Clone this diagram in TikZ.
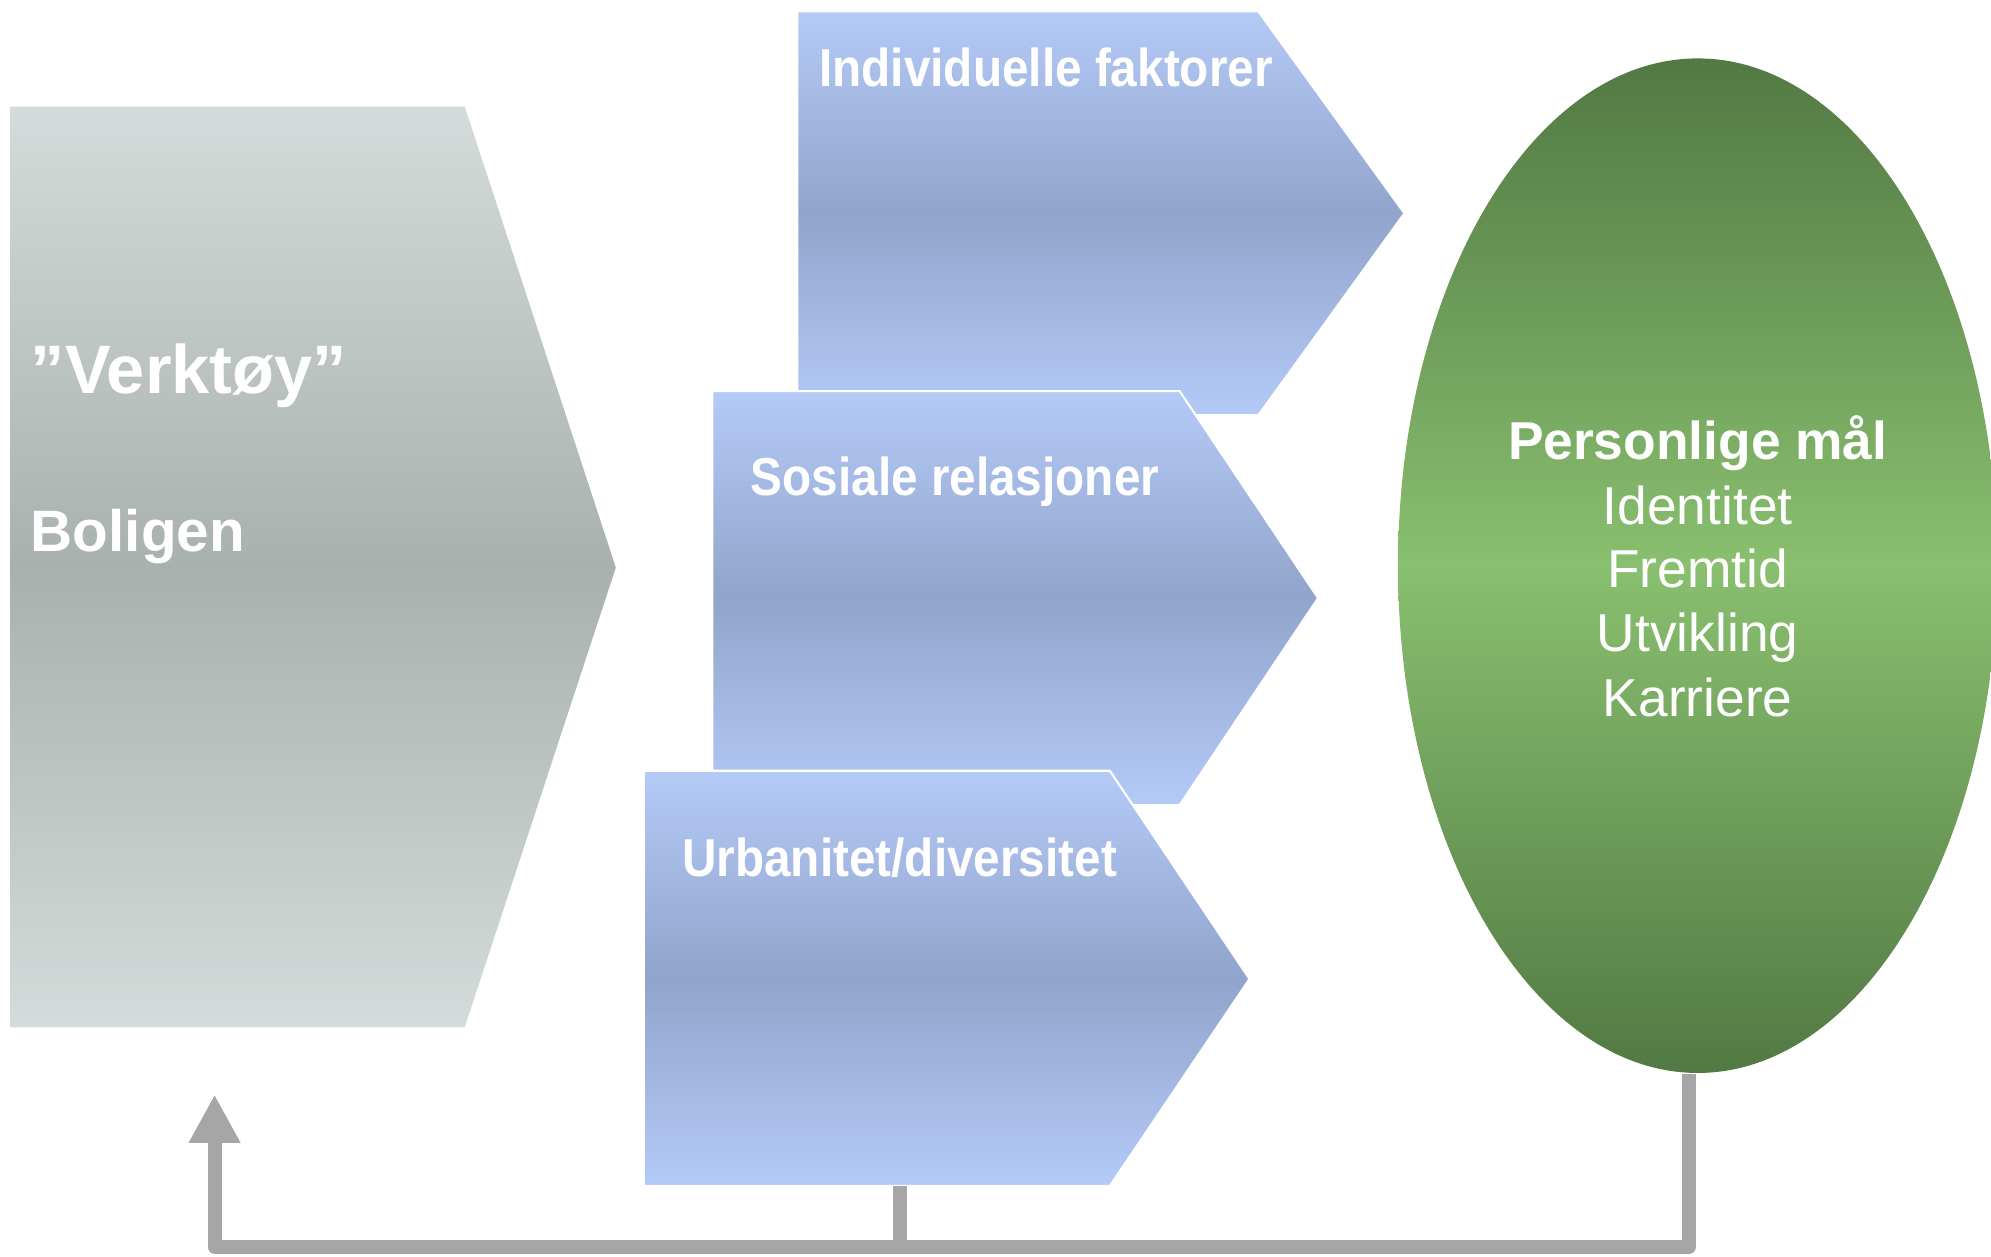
\documentclass[tikz,border=0pt]{standalone}
\usepackage{fontspec}
\setmainfont{Liberation Sans}
\newfontfamily\condsans[FakeStretch=0.895]{Liberation Sans}
\usetikzlibrary{arrows.meta,shapes.geometric}
\definecolor{greyTop}{HTML}{D3DCDA}
\definecolor{greyMid}{HTML}{A8B1AE}
\definecolor{blueTop}{HTML}{B4CAF7}
\definecolor{blueMid}{HTML}{91A4CB}
\definecolor{greenEdge}{HTML}{527943}
\definecolor{greenMid}{HTML}{89BF6F}
\definecolor{connGrey}{HTML}{A6A6A6}
\tikzset{
  greyshape/.style={top color=greyTop, bottom color=greyTop, middle color=greyMid},
  blueshape/.style={top color=blueTop, bottom color=blueTop, middle color=blueMid, draw=white, line width=1.6},
  bluelabel/.style={anchor=base west, inner sep=0, text=white, font=\condsans\bfseries\fontsize{42}{50}\selectfont},
  greylabel/.style={anchor=base west, inner sep=0, text=white, font=\bfseries},
  goaltext/.style={anchor=base, inner sep=0, text=white, font=\fontsize{42}{50}\selectfont},
  conn/.style={draw=connGrey, line width=11, line join=round, line cap=butt}
}
\begin{document}
\begin{tikzpicture}[x=1pt,y=-1pt]
\useasboundingbox (0,0) rectangle (1568,989.2);
% grey tool shape
\path[greyshape] (8,84) -- (366,84) -- (485,447) -- (366,809) -- (8,809) -- cycle;
\node[greylabel, font=\bfseries\fontsize{54}{60}\selectfont] (verktoy) at (24,310) {”Verktøy”};
\node[greylabel, font=\bfseries\fontsize{46}{55}\selectfont] (boligen) at (24,434) {Boligen};
% blue shapes
\path[blueshape] (628,9) -- (991,9) -- (1106,168) -- (991,327) -- (628,327) -- cycle;
\node[bluelabel] (indiv) at (645,68) {Individuelle faktorer};
\path[blueshape] (561,308) -- (929,308) -- (1038,471) -- (929,634) -- (561,634) -- cycle;
\node[bluelabel] (sosial) at (591,390) {Sosiale relasjoner};
\path[blueshape] (507,607) -- (874,607) -- (984,771) -- (874,934) -- (507,934) -- cycle;
\node[bluelabel] (urban) at (537,690) {Urbanitet/diversitet};
% goal ellipse
\node[ellipse, minimum width=472, minimum height=799, inner sep=0,
      top color=greenEdge, bottom color=greenEdge, middle color=greenMid] (goal) at (1337,445.5) {};
\node[goaltext, font=\bfseries\fontsize{42}{50}\selectfont] (g0) at (1337,362) {Personlige mål};
\node[goaltext] (g1) at (1337,413) {Identitet};
\node[goaltext] (g2) at (1337,463) {Fremtid};
\node[goaltext] (g3) at (1337,513) {Utvikling};
\node[goaltext] (g4) at (1337,564) {Karriere};
% feedback connector
\coordinate (gout) at (1330,846);
\coordinate (bright) at (1330,982);
\coordinate (bleft) at (169,982);
\coordinate (tip) at (169,862);
\coordinate (ustub) at (709,934);
\draw[conn] (ustub) -- (ustub |- bright);
\draw[conn, -{Triangle[width=38,length=38]}] (gout) -- (bright) -- (bleft) -- (tip);
\end{tikzpicture}
\end{document}
